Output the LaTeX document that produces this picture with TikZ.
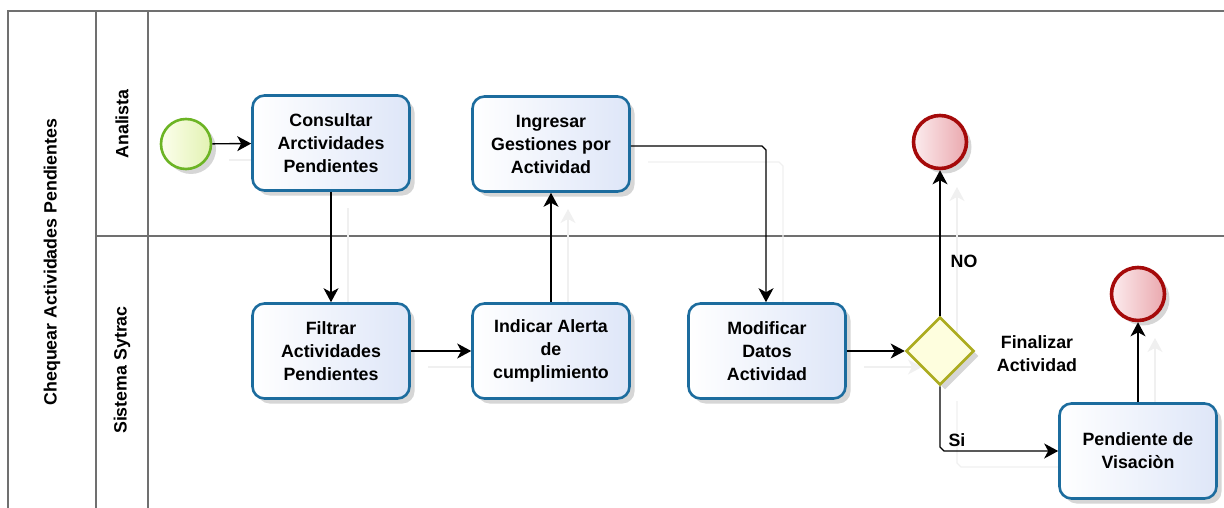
\documentclass[tikz,border=0pt]{standalone}
\usepackage{fontspec}
\setmainfont{Liberation Sans}
\usetikzlibrary{arrows.meta,shapes.geometric,shadows}

\definecolor{laneline}{RGB}{112,112,112}
\definecolor{taskborder}{RGB}{28,108,158}
\definecolor{taskfillA}{RGB}{255,255,255}
\definecolor{taskfillB}{RGB}{222,230,248}
\definecolor{endborder}{RGB}{165,10,10}
\definecolor{endfillA}{RGB}{252,236,238}
\definecolor{endfillB}{RGB}{234,168,174}
\definecolor{startborder}{RGB}{108,180,36}
\definecolor{startfillA}{RGB}{252,254,236}
\definecolor{startfillB}{RGB}{226,242,178}
\definecolor{gateborder}{RGB}{172,172,32}
\definecolor{gatefill}{RGB}{254,254,222}
\definecolor{ghostline}{RGB}{240,240,240}

\tikzset{
  txt/.style={font=\fontsize{17.8}{23}\selectfont\bfseries, text=black, align=center},
  pool/.style={draw=laneline, line width=1.6pt},
  softshadow/.style={drop shadow={shadow xshift=5pt, shadow yshift=-5pt, opacity=0.16, fill=black}},
  task/.style={txt, rectangle, rounded corners=12pt, draw=taskborder, line width=2.6pt,
    left color=taskfillA, right color=taskfillB, minimum width=157pt, minimum height=95pt,
    inner sep=2pt, softshadow},
  startev/.style={circle, draw=startborder, line width=2.6pt, left color=startfillA,
    right color=startfillB, minimum size=50pt, inner sep=0pt, softshadow},
  endev/.style={circle, draw=endborder, line width=3.6pt, left color=endfillA,
    right color=endfillB, minimum size=53pt, inner sep=0pt, softshadow},
  gate/.style={diamond, aspect=1, draw=gateborder, line width=2.6pt, fill=gatefill,
    minimum size=68pt, inner sep=0pt, softshadow},
  flow/.style={draw=black, line width=1.4pt, -{Stealth[length=14pt,width=15pt,inset=4pt]}},
  ghost/.style={draw=ghostline, line width=1.4pt, -{Stealth[length=14pt,width=15pt,inset=4pt]}},
  lbl/.style={txt, inner sep=0pt}
}

\begin{document}
\begin{tikzpicture}[x=1pt, y=-1pt]
  \useasboundingbox (0,0) rectangle (1224,508);

  % pool and lanes
  \draw[pool] (8,508) -- (8,11) -- (1224,11);
  \draw[pool] (96,11) -- (96,508);
  \draw[pool] (148,11) -- (148,508);
  \draw[pool] (96,236) -- (1224,236);
  \node[txt, rotate=90] (poolname) at (52,262) {Chequear Actividades Pendientes};
  \node[txt, rotate=90] (laneA) at (122,124) {Analista};
  \node[txt, rotate=90] (laneB) at (122,370) {Sistema Sytrac};

  % coordinates of the flow elements
  \coordinate (pStart) at (186,144);
  \coordinate (pCons)  at (331,143);
  \coordinate (pIngr)  at (551,144);
  \coordinate (pEndA)  at (940,142);
  \coordinate (pFilt)  at (331,351);
  \coordinate (pIndi)  at (551,351);
  \coordinate (pModi)  at (767,351);
  \coordinate (pGate)  at (940,351);
  \coordinate (pEndB)  at (1138,294);
  \coordinate (pPend)  at (1138,451);

  % light offset copies of the sequence flows, lying beneath the shapes
  \begin{scope}[transform canvas={shift={(17pt,-16pt)}}]
    \draw[ghost] (pStart) ++(26,0) -- ++(40,0);
    \draw[ghost] (331,192) -- (331,302);
    \draw[ghost] (411,351) -- (472,351);
    \draw[ghost] (551,302) -- (551,193);
    \draw[ghost] (631,146) -- (762,146) -- (766,150) -- (766,302);
    \draw[ghost] (847,351) -- (905,351);
    \draw[ghost] (940,317) -- (940,171);
    \draw[ghost] (940,385) -- (940,447) -- (944,451) -- (1058,451);
    \draw[ghost] (1138,402) -- (1138,322);
  \end{scope}

  % events, tasks and gateway
  \node[startev] (start) at (pStart) {};
  \node[task] (cons) at (pCons) {Consultar\\Arctividades\\Pendientes};
  \node[task] (ingr) at (pIngr) {Ingresar\\Gestiones por\\Actividad};
  \node[endev] (endA) at (pEndA) {};
  \node[task] (filt) at (pFilt) {Filtrar\\Actividades\\Pendientes};
  \node[task] (indi) at (pIndi) {Indicar Alerta\\de\\cumplimiento};
  \node[task] (modi) at (pModi) {Modificar\\Datos\\Actividad};
  \node[gate] (gate) at (pGate) {};
  \node[endev] (endB) at (pEndB) {};
  \node[task] (pend) at (pPend) {Pendiente de\\Visaciòn};

  % labels
  \node[lbl] (gatename) at (1037,354) {Finalizar\\Actividad};
  \node[lbl] (lblNo) at (964,261) {NO};
  \node[lbl] (lblSi) at (957,440) {Si};

  % sequence flows
  \draw[flow] (start) -- (cons);
  \draw[flow] (cons) -- (filt);
  \draw[flow] (filt) -- (indi);
  \draw[flow] (indi) -- (ingr);
  \draw[flow] (ingr.east |- 0,146) -- (762,146) -- (766,150) -- (modi.north -| 766,0);
  \draw[flow] (modi) -- (gate);
  \draw[flow] (gate.north) -- (endA);
  \draw[flow] (gate.south) -- (940,447) -- (944,451) -- (pend.west |- 0,451);
  \draw[flow] (pend) -- (endB);
\end{tikzpicture}
\end{document}
